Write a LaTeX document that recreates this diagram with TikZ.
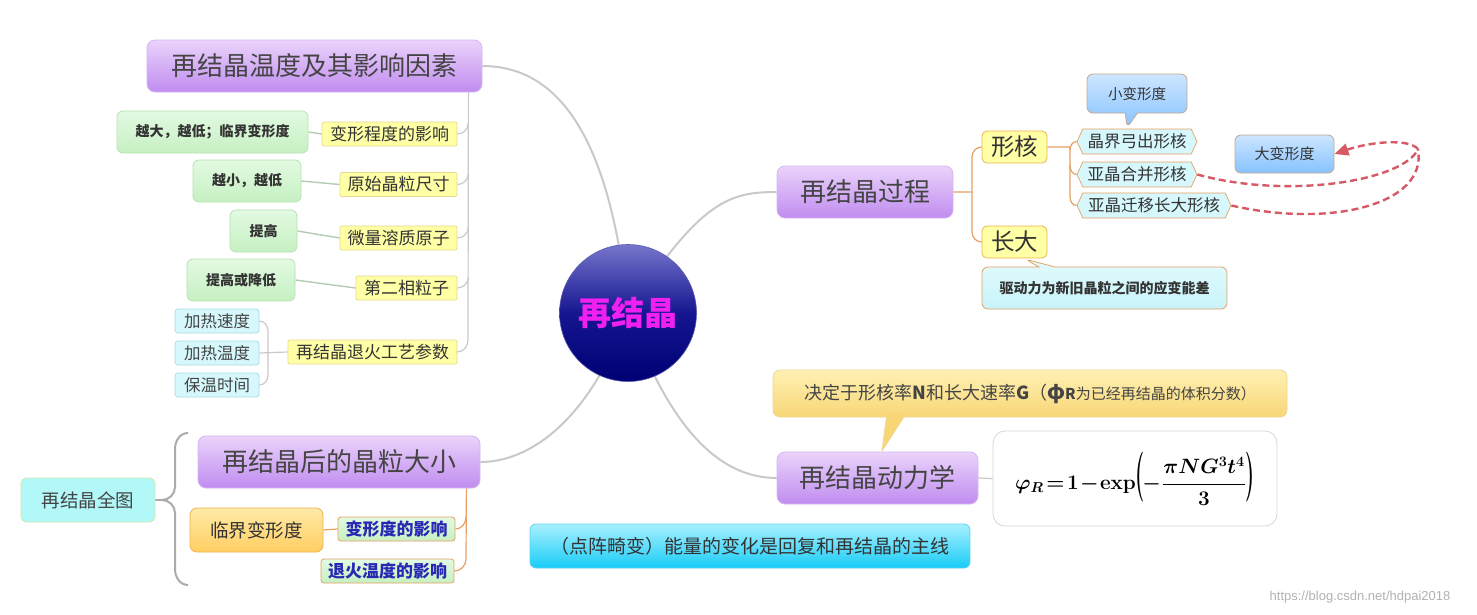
\documentclass[tikz,border=0pt]{standalone}
\usepackage[no-math]{fontspec}
\usepackage{graphicx}
\setmainfont{Noto Sans CJK SC}
\newfontfamily\wmfont{Liberation Sans}
\usetikzlibrary{shapes.symbols,shapes.callouts,arrows.meta,calc,backgrounds}
\newcommand\myfs[1]{\fontsize{#1}{#1}\selectfont}
\definecolor{topA}{HTML}{EAD3FB}
\definecolor{topB}{HTML}{C08CEF}
\definecolor{topD}{HTML}{D6B6F2}
\definecolor{txtg}{HTML}{444444}
\definecolor{txtd}{HTML}{333333}
\definecolor{yelF}{HTML}{FFFFA6}
\definecolor{yelD}{HTML}{E6D88C}
\definecolor{grA}{HTML}{E2FAE2}
\definecolor{grB}{HTML}{C6F0C2}
\definecolor{grD}{HTML}{B6E2B0}
\definecolor{cyF}{HTML}{D6F8FC}
\definecolor{cyD}{HTML}{A6DCE4}
\definecolor{orL}{HTML}{E6A064}
\definecolor{orA}{HTML}{FFE9A6}
\definecolor{orB}{HTML}{FFCF62}
\definecolor{orD}{HTML}{EFB14E}
\definecolor{allF}{HTML}{B2F8F8}
\definecolor{allD}{HTML}{CDE8A6}
\definecolor{blA}{HTML}{CDE6FF}
\definecolor{blB}{HTML}{86C2FF}
\definecolor{blD}{HTML}{C4A88E}
\definecolor{cllA}{HTML}{FFF1B4}
\definecolor{cllB}{HTML}{F8D676}
\definecolor{cllD}{HTML}{EED892}
\definecolor{drvA}{HTML}{E2FBFD}
\definecolor{drvB}{HTML}{C8F3F9}
\definecolor{botA}{HTML}{A8F0FF}
\definecolor{botB}{HTML}{18CCF6}
\definecolor{botD}{HTML}{5CD4F0}
\definecolor{lnG}{HTML}{C9C9C9}
\definecolor{lnGr}{HTML}{B2CCB2}
\definecolor{redD}{HTML}{D65A66}
\definecolor{circA}{HTML}{7676CC}
\definecolor{circM}{HTML}{151590}
\definecolor{circB}{HTML}{000074}
\definecolor{magT}{HTML}{F020F0}
\definecolor{blueT}{HTML}{2828B4}
\definecolor{frmD}{HTML}{D6D6D6}
\tikzset{
  topic/.style={rounded corners=8pt, top color=topA, bottom color=topB, draw=topD, line width=0.8pt, text=txtg, font=\myfs{26}, inner sep=0pt},
  yel/.style={rounded corners=2pt, fill=yelF, draw=yelD, line width=0.7pt, text=txtd, font=\myfs{17}, inner sep=0pt, minimum height=24pt},
  grn/.style={rounded corners=6pt, top color=grA, bottom color=grB, draw=grD, line width=0.8pt, text=txtd, font=\myfs{14}\bfseries, inner sep=0pt, minimum height=42pt},
  cyb/.style={rounded corners=3pt, fill=cyF, draw=cyD, line width=0.7pt, text=txtg, font=\myfs{16.5}, inner sep=0pt, minimum width=84pt, minimum height=24pt},
  hexb/.style={signal, signal to=east and west, signal pointer angle=130, fill=cyF, draw=orL, line width=0.7pt, text=txtd, font=\myfs{16.5}, inner sep=0pt, minimum height=25pt},
  blbox/.style={rounded corners=6pt, top color=blA, bottom color=blB, draw=blD, line width=0.8pt, text=txtd, font=\myfs{14.5}, inner sep=0pt},
  gline/.style={draw=lnG, line width=1.2pt},
  grline/.style={draw=lnGr, line width=1.4pt},
  cline/.style={draw=lnG, line width=2pt},
  oline/.style={draw=orL, line width=1.2pt},
  rdash/.style={draw=redD, line width=2.4pt, dash pattern=on 7pt off 4pt},
}
\newsavebox\formbox
\begin{document}
\sbox\formbox{\myfs{22}\boldmath\medmuskip=1mu\thickmuskip=2mu$\displaystyle \varphi_R = 1-\mathbf{exp}\scalebox{1}[2.4]{$($}\!-\frac{\pi NG^3t^4}{3}\scalebox{1}[2.4]{$)$}$}%
\begin{tikzpicture}[x=1pt,y=-1pt]
\useasboundingbox (0,0) rectangle (1477,614);

% main topics
\node[topic, minimum width=335pt, minimum height=52pt] (t1) at (314.5,66) {再结晶温度及其影响因素};
\node[topic, minimum width=176pt, minimum height=52pt] (t2) at (865,192) {再结晶过程};
\node[topic, minimum width=282pt, minimum height=52pt] (t3) at (339,462) {再结晶后的晶粒大小};
\node[topic, minimum width=201pt, minimum height=52pt] (t4) at (877.5,478) {再结晶动力学};

% centre
\node[circle, minimum size=137pt, inner sep=0pt, top color=circA, bottom color=circB, middle color=circM, draw=circM!70!white, line width=0.6pt, text=magT, font=\myfs{33}\bfseries] (c) at (628,313) {再结晶};

% left upper subtree
\node[yel, minimum width=135pt] (y1) at (389.5,134) {变形程度的影响};
\node[yel, minimum width=117pt] (y2) at (398.5,184.5) {原始晶粒尺寸};
\node[yel, minimum width=117pt] (y3) at (398.5,238) {微量溶质原子};
\node[yel, minimum width=101pt] (y4) at (406.5,288) {第二相粒子};
\node[yel, minimum width=169pt] (y5) at (372.5,352) {再结晶退火工艺参数};
\node[grn, minimum width=191pt] (g1) at (212.5,132) {越大，越低；临界变形度};
\node[grn, minimum width=108pt] (g2) at (247,181) {越小，越低};
\node[grn, minimum width=67pt] (g3) at (263.5,231) {提高};
\node[grn, minimum width=108pt] (g4) at (241,280) {提高或降低};
\node[cyb] (b1) at (217,321) {加热速度};
\node[cyb] (b2) at (217,353) {加热温度};
\node[cyb] (b3) at (217,385) {保温时间};

% left lower subtree
\node[rounded corners=6pt, fill=allF, draw=allD, line width=0.8pt, text=txtg, font=\myfs{18.5}, inner sep=0pt, minimum width=134pt, minimum height=44pt] (all) at (88,500) {再结晶全图};
\node[rounded corners=7pt, top color=orA, bottom color=orB, draw=orD, line width=0.8pt, text=txtd, font=\myfs{18.5}, inner sep=0pt, minimum width=133pt, minimum height=44pt] (crit) at (256.5,530) {临界变形度};
\node[rounded corners=3pt, top color=grA, bottom color=grB, draw=orL, line width=0.8pt, text=blueT, font=\myfs{17}\bfseries, inner sep=0pt, minimum width=117pt, minimum height=24pt] (d1) at (396.5,529) {变形度的影响};
\node[rounded corners=3pt, top color=grA, bottom color=grB, draw=orL, line width=0.8pt, text=blueT, font=\myfs{17}\bfseries, inner sep=0pt, minimum width=133pt, minimum height=24pt] (d2) at (387.5,571) {退火温度的影响};

% right upper subtree
\node[rounded corners=5pt, fill=yelF, draw=orD, line width=0.8pt, text=txtd, font=\myfs{23.5}, inner sep=0pt, minimum width=65pt, minimum height=32pt] (n1) at (1014.5,147) {形核};
\node[rounded corners=5pt, fill=yelF, draw=orD, line width=0.8pt, text=txtd, font=\myfs{23.5}, inner sep=0pt, minimum width=65pt, minimum height=32pt] (n2) at (1014.5,242) {长大};
\node[hexb, minimum width=120pt] (h1) at (1137,141.5) {晶界弓出形核};
\node[hexb, minimum width=120pt] (h2) at (1137,174.5) {亚晶合并形核};
\node[hexb, minimum width=154pt] (h3) at (1154,205.5) {亚晶迁移长大形核};
\node[blbox, rectangle callout, callout absolute pointer={(1127,128)}, callout pointer width=12pt, minimum width=100pt, minimum height=39pt] (s) at (1137,93.5) {小变形度};
\node[blbox, font=\myfs{15}, minimum width=99pt, minimum height=38pt] (L) at (1284.5,154) {大变形度};
\node[rectangle callout, callout absolute pointer={(1025,259)}, callout pointer width=16pt, rounded corners=6pt, top color=drvA, bottom color=drvB, draw=orL, line width=0.8pt, text=txtd, font=\myfs{14}\bfseries, inner sep=0pt, minimum width=245pt, minimum height=42pt] (drv) at (1104.5,288) {驱动力为新旧晶粒之间的应变能差};

% right lower subtree
\node[rounded corners=7pt, top color=cllA, bottom color=cllB, draw=cllD, line width=0.8pt, text=txtg, inner sep=0pt, minimum width=514pt, minimum height=47pt] (cl) at (1030,393.5) {\myfs{18}决定于形核率\textbf{N}和长大速率\textbf{G}（\textbf{\myfs{21}φ\myfs{15}R}\myfs{15}为已经再结晶的体积分数）};
\coordinate (clTip) at (882,451);
\path[fill=cllB, draw=cllD, line width=0.8pt] ($(cl.south west)+(114,-1.6)$) -- (clTip) -- ($(cl.south west)+(132,-1.6)$);
\node[rounded corners=12pt, fill=white, draw=frmD, line width=0.8pt, inner sep=0pt, minimum width=284pt, minimum height=95pt] (f) at (1135,478.5) {\usebox\formbox};

% bottom banner
\node[rounded corners=6pt, top color=botA, bottom color=botB, draw=botD, line width=0.8pt, text=txtd, font=\myfs{19}, inner sep=0pt, minimum width=440pt, minimum height=44pt] (ban) at (750,546) {（点阵畸变）能量的变化是回复和再结晶的主线};

\coordinate (J) at (1418,149);

\begin{scope}[on background layer]
\fill[white] (0,0) rectangle (1477,614);
% centre connectors
\draw[cline] (t1.east) .. controls (565,66) and (612,150) .. (c.center);
\draw[cline] (c.center) .. controls (700,200) and (730,192) .. (t2.west);
\draw[cline] (c.center) .. controls (590,420) and (530,462) .. (t3.east);
\draw[cline] (c.center) .. controls (670,430) and (720,478) .. (t4.west);
\draw[gline] (t4.east) -- (f.west);
% upper left tree
\draw[gline] ($(t1.south east)+(-14,0)$) -- (468,340) to[out=-90,in=0] (y5.east);
\foreach \k in {y1,y2,y3,y4}{\draw[gline] ($(\k.east)+(11,-11)$) to[out=-90,in=0] (\k.east);}
\draw[grline] (g1.east) -- (y1.west);
\draw[grline] (g2.east) -- (y2.west);
\draw[grline] (g3.east) -- (y3.west);
\draw[grline] (g4.east) -- (y4.west);
\draw[gline] (y5.west) -- (b2.east);
\draw[gline] (268,352) -- (268,331) to[out=90,in=0] (b1.east);
\draw[gline] (268,352) -- (268,375) to[out=-90,in=0] (b3.east);
% lower left tree
\draw[oline] ($(t3.south east)+(-14,0)$) -- (466,559) to[out=-90,in=0] (d2.east);
\draw[oline] (466,517) to[out=-90,in=0] (d1.east);
\draw[oline] (crit.east) -- (d1.west);
\draw[draw=lnG!85!black, line width=2pt] (188,433) to[out=180,in=90] (175,449) -- (175,487) to[out=-90,in=0] (162,500) to[out=0,in=90] (175,513) -- (175,569) to[out=-90,in=180] (188,585);
\draw[draw=lnG!85!black, line width=1.4pt] (all.east) -- (162,500);
% right tree
\draw[oline] (t2.east) -- (972,192) -- (972,157) to[out=90,in=180] (n1.west);
\draw[oline] (972,192) -- (972,232) to[out=-90,in=180] (n2.west);
\draw[oline] (n1.east) -- (1070,147) -- (1070,197) to[out=-90,in=180] (h3.west);
\draw[oline] (1070,150) to[out=90,in=180] (h1.west);
\draw[oline] (1070,165) to[out=-90,in=180] (h2.west);
\end{scope}

% dashed red arrows
\draw[rdash] (h2.east) .. controls (1290,200) and (1405,180) .. (J);
\draw[rdash] (h3.east) .. controls (1330,228) and (1428,205) .. (J);
\draw[rdash, -{Triangle[length=14pt,width=12pt]}] (J) .. controls (1408,138) and (1370,142) .. (L.east);

% watermark
\node[font=\wmfont\myfs{13}, text=black!30, inner sep=0pt] (wm) at (1360,597) {https://blog.csdn.net/hdpai2018};
\end{tikzpicture}
\end{document}
